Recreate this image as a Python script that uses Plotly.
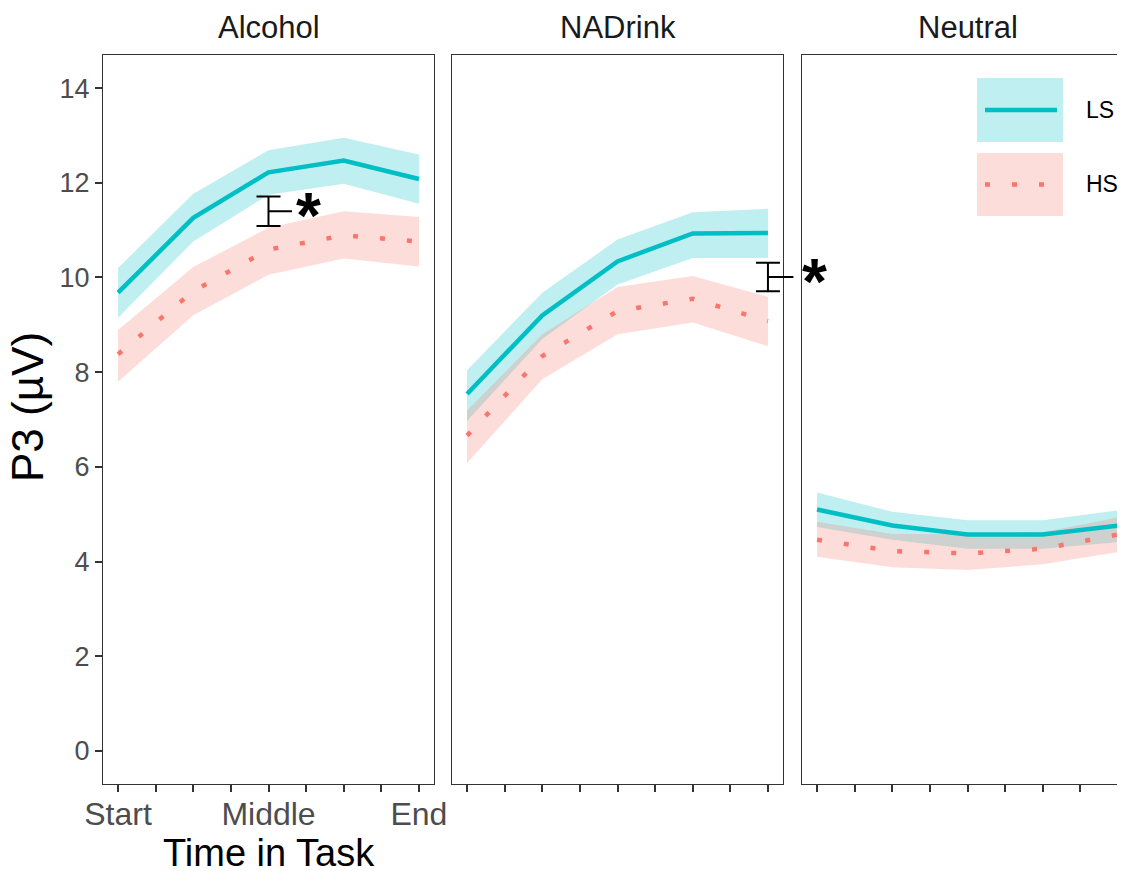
import plotly.graph_objects as go

# ---------------- data ----------------
panels = ["Alcohol", "NADrink", "Neutral"]
time_points = [1, 3, 5, 7, 9]
tick_positions = [1, 2, 3, 4, 5, 6, 7, 8, 9]
tick_labels = ["Start", "", "", "", "Middle", "", "", "", "End"]
groups = ["LS", "HS"]
x_title = "Time in Task"
y_title = "P3 (µV)"

ls_mean_alcohol = [9.68, 11.26, 12.22, 12.47, 12.08]
ls_hi_alcohol = [10.20, 11.77, 12.69, 12.95, 12.60]
ls_lo_alcohol = [9.15, 10.76, 11.75, 11.98, 11.56]
hs_mean_alcohol = [8.38, 9.71, 10.59, 10.89, 10.76]
hs_hi_alcohol = [8.89, 10.22, 11.05, 11.40, 11.28]
hs_lo_alcohol = [7.80, 9.20, 10.06, 10.40, 10.23]

ls_mean_nadrink = [7.54, 9.20, 10.34, 10.93, 10.94]
ls_hi_nadrink = [8.04, 9.68, 10.80, 11.38, 11.45]
ls_lo_nadrink = [6.97, 8.70, 9.85, 10.41, 10.41]
hs_mean_nadrink = [6.66, 8.34, 9.29, 9.55, 9.08]
hs_hi_nadrink = [7.19, 8.80, 9.80, 10.03, 9.59]
hs_lo_nadrink = [6.08, 7.85, 8.80, 9.05, 8.55]

ls_mean_neutral = [5.10, 4.76, 4.57, 4.57, 4.76]
ls_hi_neutral = [5.46, 5.05, 4.87, 4.87, 5.08]
ls_lo_neutral = [4.73, 4.46, 4.27, 4.27, 4.41]
hs_mean_neutral = [4.46, 4.22, 4.17, 4.27, 4.57]
hs_hi_neutral = [4.84, 4.58, 4.58, 4.62, 4.93]
hs_lo_neutral = [4.10, 3.88, 3.82, 3.94, 4.20]

# significance markers (panel, bracket x, centre, half-height)
sig_panel_index = [0, 1]
sig_x = [5, 9]
sig_y = [11.40, 10.01]
sig_half = [0.31, 0.30]

y_ticks = [0, 2, 4, 6, 8, 10, 12, 14]

# ---------------- style ----------------
W, H = 1125, 871
OFF = 8  # browser body margin
FW, FH = W - OFF, H - OFF
FONT = "Liberation Sans, Arial, Helvetica, sans-serif"
LS_COL = "#00BFC4"
HS_COL = "#F8766D"
LS_FILL = "rgba(0,191,196,0.25)"
HS_FILL = "rgba(248,118,109,0.25)"
BORDER = "#333333"
DOT_DASH = "5px,22px"
TAIL_PX = [25, 27]
STAR_SHIFT_PX = [40, 47]


def px_x(p):
    return (p - OFF) / FW


def px_y(p):
    return 1 - (p - OFF) / FH


panel_px = [(103, 434), (452, 783), (802, 1125)]
px_per_unit = (434 - 103) / 8.8
panel_ranges = [[0.6, 9.4], [0.6, 9.4], [0.6, 0.6 + (1125 - 802) / px_per_unit]]
y_dom = [px_y(784), px_y(55)]

data = {
    "Alcohol": (ls_mean_alcohol, ls_lo_alcohol, ls_hi_alcohol, hs_mean_alcohol, hs_lo_alcohol, hs_hi_alcohol),
    "NADrink": (ls_mean_nadrink, ls_lo_nadrink, ls_hi_nadrink, hs_mean_nadrink, hs_lo_nadrink, hs_hi_nadrink),
    "Neutral": (ls_mean_neutral, ls_lo_neutral, ls_hi_neutral, hs_mean_neutral, hs_lo_neutral, hs_hi_neutral),
}

fig = go.Figure()

for i, name in enumerate(panels):
    xa = "x" if i == 0 else f"x{i+1}"
    ya = "y" if i == 0 else f"y{i+1}"
    ls_m, ls_lo, ls_hi, hs_m, hs_lo, hs_hi = data[name]
    xs = time_points + time_points[::-1]
    fig.add_trace(go.Scatter(x=xs, y=ls_hi + ls_lo[::-1], fill="toself", fillcolor=LS_FILL,
                             line=dict(width=0), mode="lines", hoverinfo="skip",
                             showlegend=False, xaxis=xa, yaxis=ya))
    fig.add_trace(go.Scatter(x=xs, y=hs_hi + hs_lo[::-1], fill="toself", fillcolor=HS_FILL,
                             line=dict(width=0), mode="lines", hoverinfo="skip",
                             showlegend=False, xaxis=xa, yaxis=ya))
    fig.add_trace(go.Scatter(x=time_points, y=ls_m, mode="lines", name="LS",
                             line=dict(color=LS_COL, width=4.5), showlegend=False,
                             xaxis=xa, yaxis=ya))
    fig.add_trace(go.Scatter(x=time_points, y=hs_m, mode="lines", name="HS",
                             line=dict(color=HS_COL, width=4.5, dash=DOT_DASH), showlegend=False,
                             xaxis=xa, yaxis=ya))

# significance brackets
for k, pi in enumerate(sig_panel_index):
    xa = "x" if pi == 0 else f"x{pi+1}"
    ya = "y" if pi == 0 else f"y{pi+1}"
    fig.add_trace(go.Scatter(x=[sig_x[k]], y=[sig_y[k]], mode="markers",
                             marker=dict(size=1, color="rgba(0,0,0,0)"),
                             error_y=dict(type="data", array=[sig_half[k]], symmetric=True,
                                          color="black", thickness=2, width=12),
                             showlegend=False, hoverinfo="skip", xaxis=xa, yaxis=ya))
    fig.add_annotation(x=sig_x[k], y=sig_y[k], ax=TAIL_PX[k], ay=0,
                       xref=xa, yref=ya, text="", showarrow=True,
                       arrowhead=0, arrowwidth=2, arrowcolor="black", standoff=0, startstandoff=0)
    fig.add_annotation(x=sig_x[k], y=sig_y[k], xref=xa, yref=ya, text="<b>*</b>",
                       showarrow=False, font=dict(size=64, color="black", family=FONT),
                       xanchor="center", yanchor="middle", xshift=STAR_SHIFT_PX[k], yshift=-5)

# strip labels
for i, name in enumerate(panels):
    xa = "x" if i == 0 else f"x{i+1}"
    fig.add_annotation(x=5, y=px_y(27), xref=xa, yref="paper", text=name, showarrow=False,
                       font=dict(size=31, color="#1A1A1A", family=FONT),
                       xanchor="center", yanchor="middle")

# axis titles
fig.add_annotation(x=5, y=px_y(853), xref="x", yref="paper", text=x_title, showarrow=False,
                   xanchor="center", yanchor="middle",
                   font=dict(size=38, color="black", family=FONT))
fig.add_annotation(x=px_x(28), y=px_y(407), xref="paper", yref="paper", text=y_title,
                   showarrow=False, textangle=-90, xanchor="center", yanchor="middle",
                   font=dict(size=44, color="black", family=FONT))

# legend drawn as keys
leg_boxes = [(977, 78, 1063, 142), (977, 153, 1063, 216)]
leg_fills = [LS_FILL, HS_FILL]
leg_cols = [LS_COL, HS_COL]
leg_dash = ["solid", DOT_DASH]
for j, g in enumerate(groups):
    x0, y0, x1, y1 = leg_boxes[j]
    fig.add_shape(type="rect", xref="paper", yref="paper", x0=px_x(x0), x1=px_x(x1),
                  y0=px_y(y1), y1=px_y(y0), fillcolor=leg_fills[j], line=dict(width=0))
    ym = (y0 + y1) / 2
    fig.add_shape(type="line", xref="paper", yref="paper", x0=px_x(985), x1=px_x(1057),
                  y0=px_y(ym), y1=px_y(ym), line=dict(color=leg_cols[j], width=4.5, dash=leg_dash[j]))
    fig.add_annotation(x=px_x(1084), y=px_y(ym), xref="paper", yref="paper", text=g,
                       showarrow=False, xanchor="left", yanchor="middle",
                       font=dict(size=23, color="black", family=FONT))

axis_common = dict(showgrid=False, zeroline=False, showline=True, linecolor=BORDER,
                   linewidth=1.3, ticks="outside", ticklen=7, tickwidth=2, tickcolor=BORDER,
                   automargin=False)

layout = dict(
    width=FW, height=FH, margin=dict(l=0, r=0, t=0, b=0),
    plot_bgcolor="white", paper_bgcolor="white",
    font=dict(family=FONT, color="black"),
    showlegend=False,
)
for i in range(3):
    xk = "xaxis" if i == 0 else f"xaxis{i+1}"
    yk = "yaxis" if i == 0 else f"yaxis{i+1}"
    ya = "y" if i == 0 else f"y{i+1}"
    xa = "x" if i == 0 else f"x{i+1}"
    xaxis = dict(axis_common, domain=[px_x(panel_px[i][0]), min(1.0, px_x(panel_px[i][1]))],
                 range=panel_ranges[i], anchor=ya, mirror=True,
                 tickmode="array", tickvals=tick_positions,
                 ticktext=tick_labels if i == 0 else [""] * len(tick_positions),
                 tickfont=dict(size=32, color="#4D4D4D", family=FONT),
                 ticklabelstandoff=-6)
    yaxis = dict(axis_common, domain=y_dom, range=[-0.7, 14.7], anchor=xa,
                 mirror=(i < 2), tickmode="array", tickvals=y_ticks)
    if i == 0:
        yaxis["tickfont"] = dict(size=27, color="#4D4D4D", family=FONT)
    else:
        yaxis["showticklabels"] = False
        yaxis["ticks"] = ""
    layout[xk] = xaxis
    layout[yk] = yaxis

fig.update_layout(**layout)
fig.write_html("out.html")
